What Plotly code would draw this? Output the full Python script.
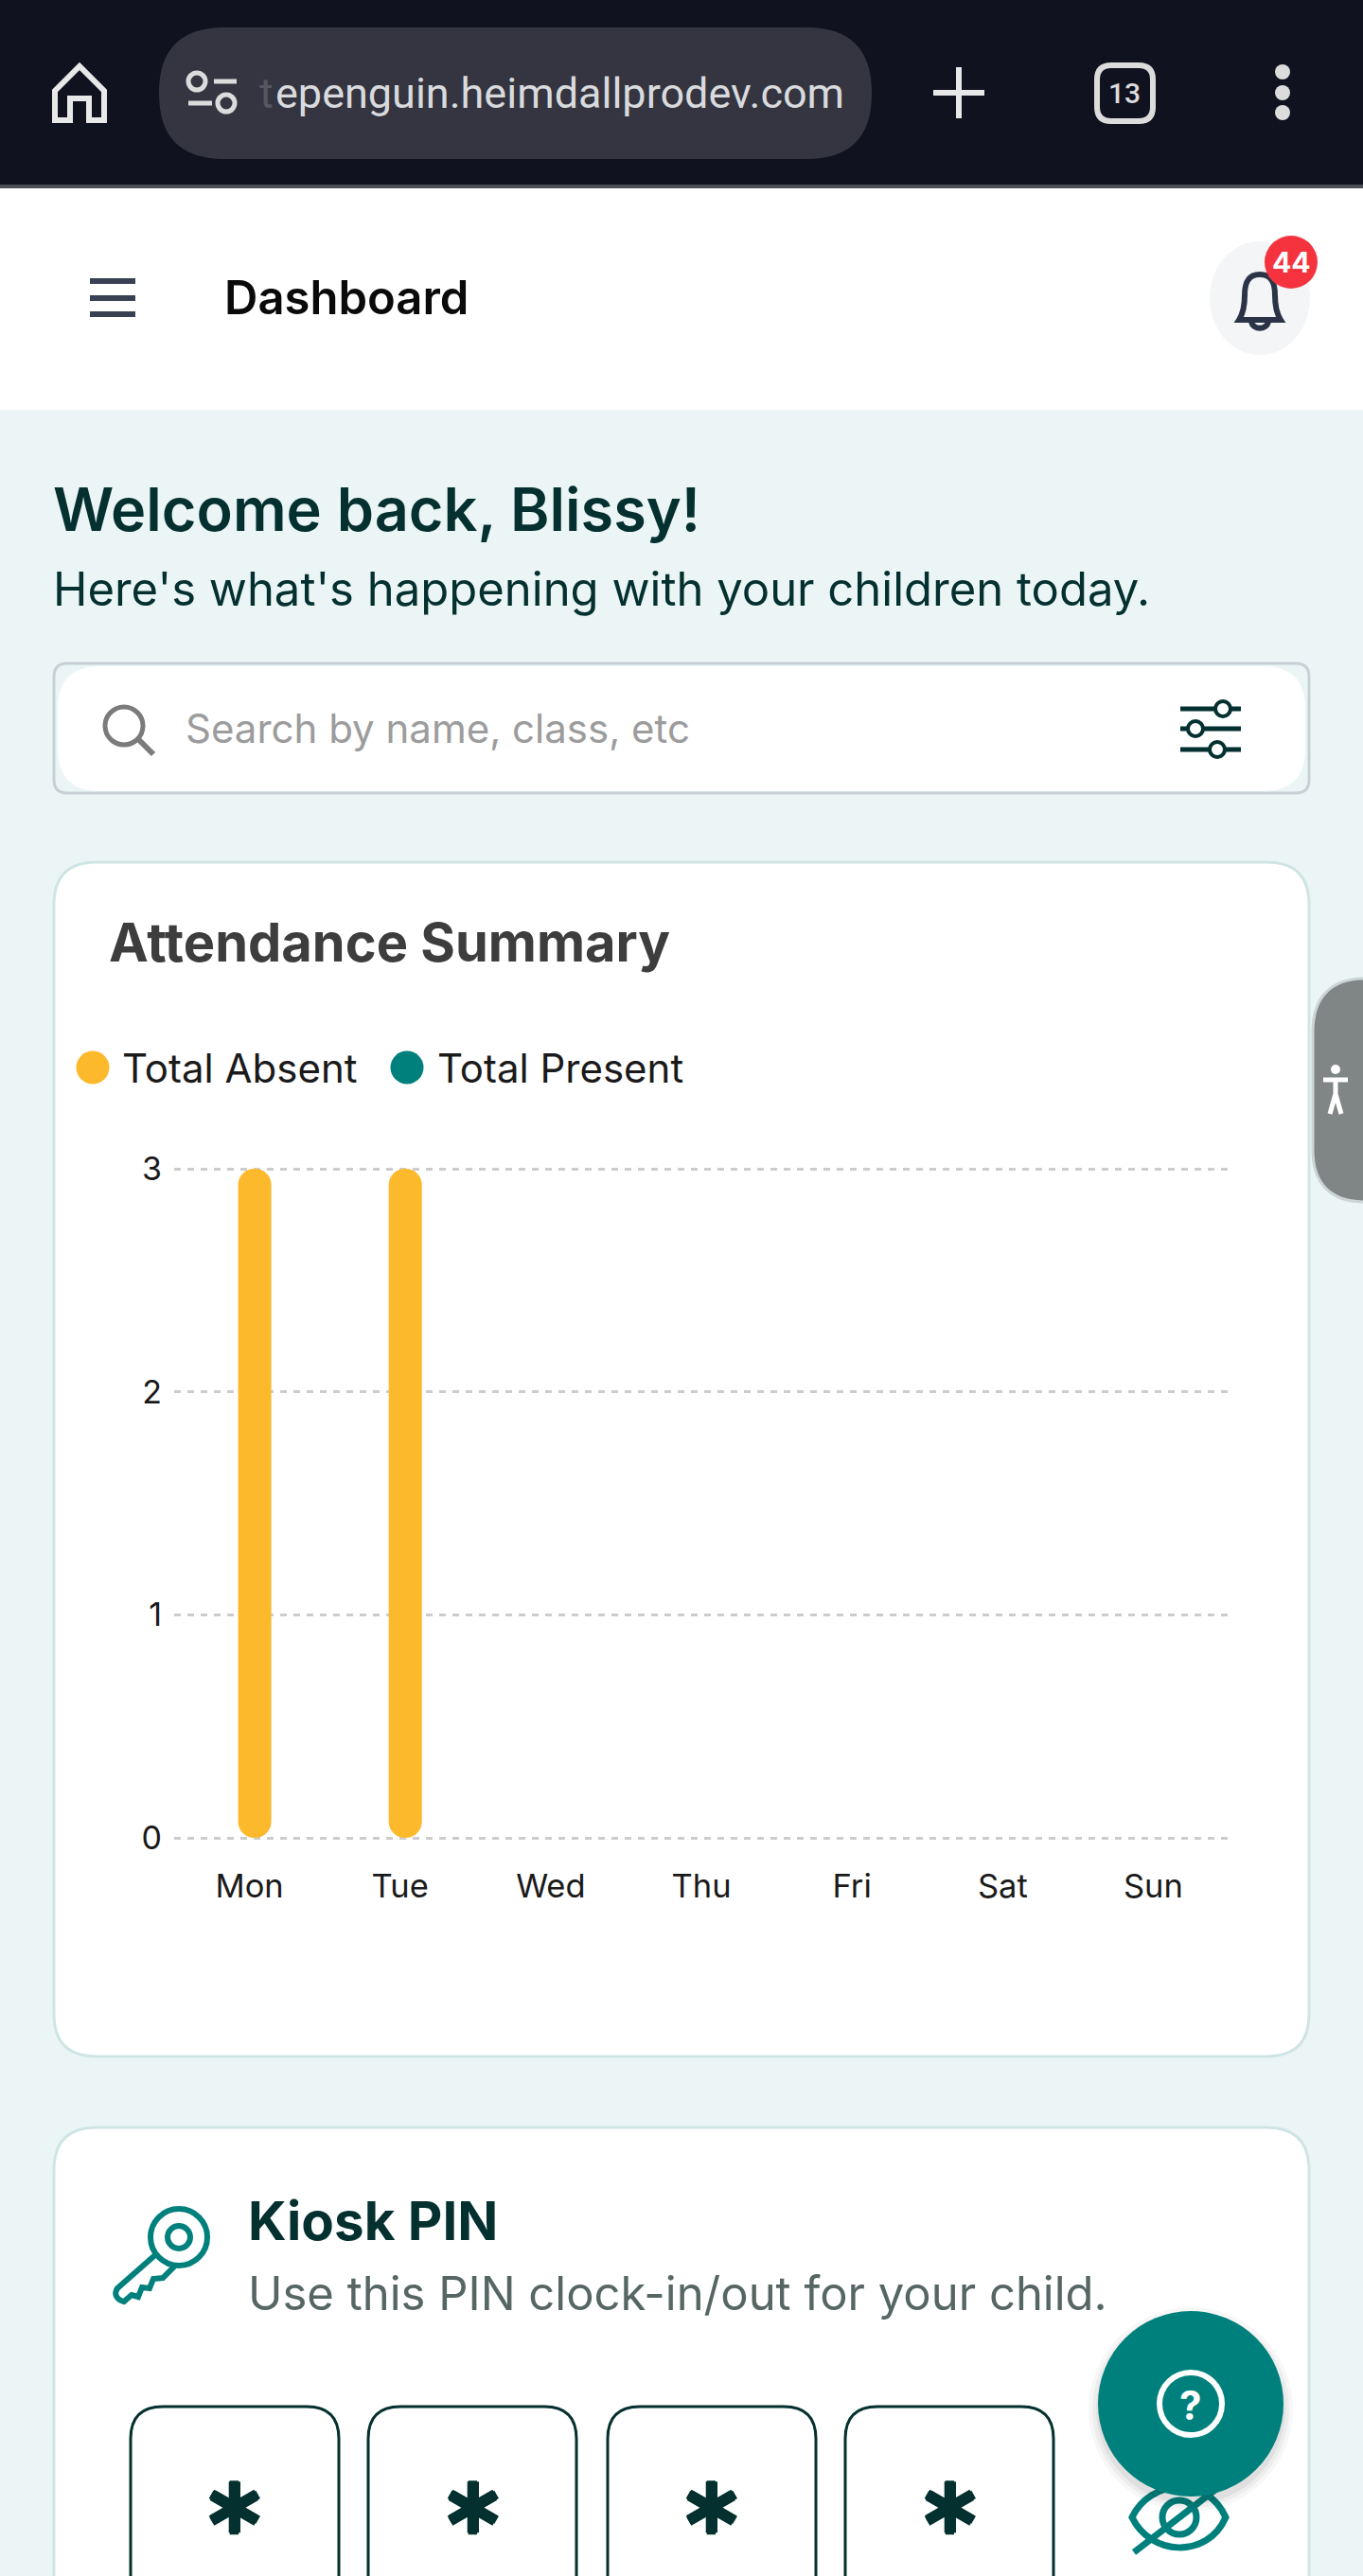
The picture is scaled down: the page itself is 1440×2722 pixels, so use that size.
import plotly.graph_objects as go

# chart values
days = ["Mon", "Tue", "Wed", "Thu", "Fri", "Sat", "Sun"]
total_absent = [3, 3, 0, 0, 0, 0, 0]
total_present = [0, 0, 0, 0, 0, 0, 0]
y_ticks = [0, 1, 2, 3]
legend_names = ["Total Absent", "Total Present"]
pin_chars = ["\u2217", "\u2217", "\u2217", "\u2217"]

W, H = 1440, 2722
BG = "#ecf5f6"
TEAL = "#00807c"
AMBER = "#fdb92c"
DARK = "#04302f"
BAR_W = 35 / 159  # in category units
BAR_SHIFT = 5.5 / 159

shapes = []
notes = []


def rect(x0, y0, x1, y1, fill, line=None, lw=0, layer="below"):
    shapes.append(dict(type="rect", xref="x", yref="y", x0=x0, y0=y0, x1=x1, y1=y1,
                       fillcolor=fill, line=dict(color=line, width=lw), layer=layer))


def rrect(x0, y0, x1, y1, r, fill="rgba(0,0,0,0)", line=None, lw=0, layer="below"):
    p = (f"M{x0+r},{y0} L{x1-r},{y0} Q{x1},{y0} {x1},{y0+r} L{x1},{y1-r} Q{x1},{y1} {x1-r},{y1} "
         f"L{x0+r},{y1} Q{x0},{y1} {x0},{y1-r} L{x0},{y0+r} Q{x0},{y0} {x0+r},{y0} Z")
    shapes.append(dict(type="path", xref="x", yref="y", path=p, fillcolor=fill,
                       line=dict(color=line, width=lw), layer=layer))


def circle(cx, cy, r, fill="rgba(0,0,0,0)", line=None, lw=0, layer="below", ry=None):
    ry = r if ry is None else ry
    shapes.append(dict(type="circle", xref="x", yref="y", x0=cx-r, y0=cy-ry, x1=cx+r, y1=cy+ry,
                       fillcolor=fill, line=dict(color=line, width=lw), layer=layer))


def path(d, color, lw, fill="rgba(0,0,0,0)", layer="below"):
    shapes.append(dict(type="path", xref="x", yref="y", path=d, fillcolor=fill,
                       line=dict(color=color, width=lw), layer=layer))


def text(x, y, s, size, color, weight=400, family="Inter", anchor="left", opacity=1, shadow="none"):
    notes.append(dict(xref="x", yref="y", x=x, y=y, text=s, showarrow=False, xanchor=anchor,
                      yanchor="middle", opacity=opacity,
                      font=dict(family=family, size=size, color=color, weight=weight, shadow=shadow)))


# browser bar
rect(0, 0, W, 195, "#10131f")
rect(0, 195, W, 199, "#4a4d55")
path("M58,127 L58,96 L84,70 L110,96 L110,127 L94,127 L94,104 L74,104 L74,127 Z", "#e8e8e8", 6)
rrect(168, 29, 921, 168, 69, "#343540")
circle(208, 86, 9, line="#dcdcdc", lw=5)
path("M226,86 L250,86", "#dcdcdc", 5)
path("M199,109 L224,109", "#dcdcdc", 5)
circle(239, 109, 9, line="#dcdcdc", lw=5)
text(291, 98, "t", 45, "#d9dadd", family="Roboto", anchor="right", opacity=0.2)
text(289, 98, "epenguin.heimdallprodev.com", 45, "#d9dadd", family="Roboto")
path("M1013,71 L1013,125 M986,98 L1040,98", "#e8e8e8", 6)
rrect(1159, 69, 1218, 128, 15, line="#dcdcdc", lw=6)
text(1188, 98, "13", 30, "#dcdcdc", family="Roboto", anchor="center", weight=500)
for yy in [76, 98, 119]:
    circle(1355, yy, 8, "#dcdcdc")

# app header
rect(0, 199, W, 433, "#ffffff")
for yy in [297, 315, 332]:
    path(f"M95,{yy} L143,{yy}", "#374151", 6)
text(235, 314, "Dashboard", 49, "#0a0a0a", weight=600)
circle(1331, 315, 53, "#f3f5f7", ry=60)
path("M1331,290 C1318,290 1315,300 1315,312 C1315,322 1314,330 1309,338 L1353,338 C1348,330 1347,322 1347,312 "
     "C1347,300 1344,290 1331,290 Z M1322,340 C1324,349 1338,349 1340,340", "#2b3447", 6)
circle(1364, 277, 28, "#f5333f")
text(1364, 277, "44", 30, "#ffffff", weight=700, anchor="center")

# greeting
text(54, 538, "Welcome back, Blissy!", 63, DARK, weight=600)
text(54, 622, "Here's what's happening with your children today.", 49, DARK)

# search
rrect(57, 701, 1383, 838, 14, BG, "#c5d1d6", 3)
rrect(61, 704, 1379, 836, 45, "#ffffff")
circle(131, 767, 20, line="#7b7b7b", lw=5)
path("M146,781 L162,797", "#7b7b7b", 6)
text(194, 769, "Search by name, class, etc", 42, "#9c9c9c")
for yy, cxx in [(749, 1292), (770, 1263), (792, 1286)]:
    path(f"M1247,{yy} L1311,{yy}", DARK, 5)
    circle(cxx, yy, 8, "#ffffff", DARK, 4)

# attendance card
rrect(57, 911, 1383, 2173, 45, "#ffffff", "#cfe5e4", 3)
text(113, 996, "Attendance Summary", 56, "#3d3d3d", weight=700)
circle(98, 1128, 17.5, AMBER)
text(127, 1128, legend_names[0], 42, "#1a1a1a")
circle(430, 1128, 17.5, TEAL)
text(460, 1128, legend_names[1], 42, "#1a1a1a")

# accessibility tab
path("M1442,1034 C1405,1034 1387,1055 1387,1090 L1387,1215 C1387,1250 1405,1270 1442,1270 Z",
     "#cbd5d5", 3, fill="#808586")
circle(1411, 1130, 5, "#ffffff")
path("M1398,1141 L1424,1141 M1411,1141 L1411,1156 M1411,1156 L1405,1177 M1411,1156 L1417,1177", "#ffffff", 5)

# kiosk card, runs off the bottom of the page
rrect(57, 2248, 1383, 2800, 45, "#ffffff", "#cfe5e4", 3)
text(260, 2346, "Kiosk PIN", 56.5, DARK, weight=700)
text(260, 2423, "Use this PIN clock-in/out for your child.", 49, "#566664")
# key: toothed shaft first, then the round head on top of it
path("M166,2381 L124,2418 C120,2424 123,2430 131,2432 L139,2425 L146,2427 L150,2417 L158,2418 L162,2408 L172,2407 L184,2395 Z",
     TEAL, 6, fill="#ffffff")
circle(189, 2364, 30, "#ffffff", TEAL, 6)
circle(189, 2364, 12, line=TEAL, lw=6)
thick = f"1.5px 0 0 {DARK}, -1.5px 0 0 {DARK}, 0 1.5px 0 {DARK}, 0 -1.5px 0 {DARK}"
for x0, ch, cx in zip([138, 389, 642, 893], pin_chars, [247, 499, 751, 1003]):
    rrect(x0, 2543, x0+220, 2800, 34, "#ffffff", DARK, 3)
    text(cx, 2645, ch, 82, DARK, weight=700, anchor="center", shadow=thick)

# hidden-eye icon sits under the help button
path("M1196,2660 C1215,2620 1275,2615 1295,2660 C1275,2705 1215,2700 1196,2660 Z", TEAL, 7)
circle(1246, 2660, 18, line=TEAL, lw=7)
path("M1198,2697 L1285,2630", TEAL, 7)
for i, op in enumerate([0.03, 0.04, 0.05]):
    circle(1258, 2546, 108 - 4 * i, f"rgba(0,0,0,{op})", layer="above")
circle(1258, 2540, 98, TEAL, layer="above")
circle(1258, 2540, 33, line="#ffffff", lw=6, layer="above")
text(1258, 2541, "?", 42, "#ffffff", weight=700, anchor="center")

fig = go.Figure()

# an explicit base makes plotly round both ends of the bar
zero_base = [0] * len(days)
common = dict(xaxis="x2", yaxis="y2", width=BAR_W, offset=-BAR_W / 2 + BAR_SHIFT, hoverinfo="skip",
              showlegend=False, base=zero_base)
fig.add_trace(go.Bar(x=days, y=total_absent, marker=dict(color=AMBER, line=dict(width=0)), name=legend_names[0], **common))
fig.add_trace(go.Bar(x=days, y=total_present, marker=dict(color=TEAL, line=dict(width=0)), name=legend_names[1], **common))

# a hair of range padding, plotly drops gridlines sitting exactly on the range ends
pad = 0.012
unit_px = (1942 - 1235) / 3
fig.update_layout(
    template="none",
    width=W,
    height=H,
    margin=dict(l=0, r=0, t=0, b=0),
    paper_bgcolor=BG,
    plot_bgcolor="rgba(0,0,0,0)",
    showlegend=False,
    barmode="overlay",
    barcornerradius=17,
    font=dict(family="Inter", color="#1a1a1a"),
    # whole-page axes in pixels for the page furniture
    xaxis=dict(domain=[0, 1], range=[0, W], visible=False, fixedrange=True, automargin=False),
    yaxis=dict(domain=[0, 1], range=[H, 0], visible=False, fixedrange=True, automargin=False),
    xaxis2=dict(domain=[184 / W, 1298 / W], anchor="y2", type="category", categoryorder="array", categoryarray=days,
                range=[-0.5, 6.5], showgrid=False, showline=False, zeroline=False, ticks="", automargin=False,
                tickfont=dict(size=34.5, color="#1a1a1a"), ticklabelstandoff=25),
    yaxis2=dict(domain=[1 - (1942 + pad * unit_px) / H, 1 - (1235 - pad * unit_px) / H], anchor="x2",
                range=[-pad, 3 + pad], tickmode="array", tickvals=y_ticks, automargin=False,
                showgrid=True, gridcolor="#cccccc", gridwidth=3, griddash="7px,7px", zeroline=False, showline=False,
                ticks="", tickfont=dict(size=34, color="#1a1a1a"), ticklabelstandoff=12),
    shapes=shapes,
    annotations=notes,
)

fig.write_html("out.html", config=dict(displayModeBar=False), post_script="document.body.style.margin='0';")
